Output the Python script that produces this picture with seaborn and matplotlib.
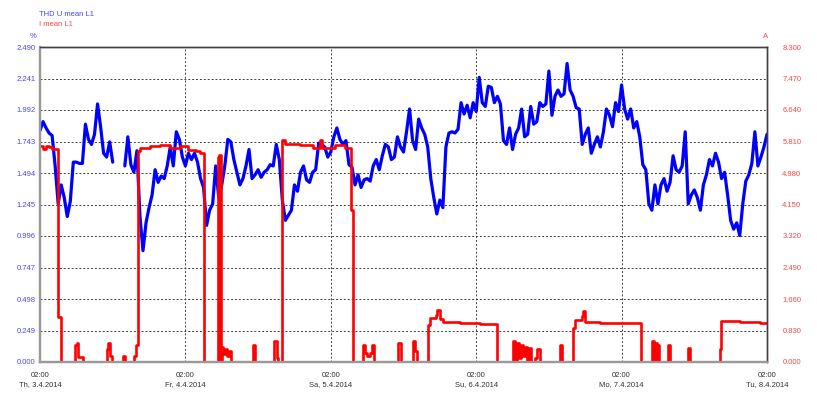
import numpy as np
import pandas as pd
import matplotlib
matplotlib.use('Agg')
import matplotlib.pyplot as plt
import seaborn as sns

sns.set_style('white')
plt.rcParams['font.family'] = ['Liberation Sans', 'DejaVu Sans']

# THD U mean L1 [%], 30 min values from Th 3.4.2014 02:00
thd_hours = np.arange(0, 120.5, 0.5)
thd_u = [
    1.83, 1.90, 1.85, 1.81, 1.79, 1.55, 1.25, 1.40, 1.30, 1.15,
    1.27, 1.58, 1.58, 1.57, 1.57, 1.88, 1.76, 1.72, 1.80, 2.04,
    1.86, 1.65, 1.62, 1.74, 1.58, np.nan, np.nan, np.nan, 1.55, 1.78,
    1.56, 1.50, 1.67, 1.15, 0.88, 1.10, 1.22, 1.32, 1.52, 1.42,
    1.47, 1.45, 1.55, 1.70, 1.55, 1.82, 1.76, 1.62, 1.55, 1.65,
    1.60, 1.65, 1.58, 1.45, 1.38, 1.08, 1.20, 1.25, 1.55, 1.30,
    1.40, 1.55, 1.76, 1.74, 1.60, 1.50, 1.40, 1.45, 1.55, 1.68,
    1.45, 1.48, 1.52, 1.46, 1.50, 1.52, 1.56, 1.55, 1.72, 1.60,
    1.28, 1.12, 1.16, 1.20, 1.40, 1.35, 1.50, 1.55, 1.44, 1.42,
    1.50, 1.52, 1.73, 1.72, 1.70, 1.62, 1.66, 1.78, 1.85, 1.76,
    1.72, 1.75, 1.56, 1.54, 1.40, 1.48, 1.38, 1.44, 1.45, 1.43,
    1.55, 1.60, 1.52, 1.63, 1.72, 1.70, 1.60, 1.62, 1.78, 1.70,
    1.66, 1.82, 2.00, 1.75, 1.68, 1.92, 1.85, 1.80, 1.70, 1.45,
    1.30, 1.17, 1.28, 1.22, 1.70, 1.81, 1.82, 1.81, 1.84, 2.05,
    1.96, 2.03, 1.93, 2.05, 1.98, 2.25, 2.05, 2.02, 2.18, 2.17,
    2.05, 2.10, 2.04, 1.75, 1.72, 1.85, 1.68, 1.80, 1.85, 2.00,
    1.78, 1.80, 2.02, 1.88, 1.90, 2.05, 2.02, 2.04, 2.30, 1.95,
    2.10, 2.15, 2.10, 2.12, 2.36, 2.15, 2.10, 2.01, 2.00, 1.72,
    1.80, 1.85, 1.65, 1.72, 1.78, 1.70, 1.82, 2.00, 1.95, 1.86,
    2.05, 1.98, 2.19, 2.00, 1.92, 2.00, 1.85, 1.90, 1.78, 1.56,
    1.52, 1.25, 1.20, 1.40, 1.25, 1.40, 1.45, 1.35, 1.42, 1.63,
    1.52, 1.50, 1.55, 1.82, 1.25, 1.32, 1.36, 1.30, 1.20, 1.40,
    1.48, 1.60, 1.55, 1.65, 1.58, 1.45, 1.50, 1.32, 1.12, 1.05,
    1.10, 1.00, 1.25, 1.43, 1.48, 1.57, 1.82, 1.55, 1.62, 1.70,
    1.80,
]

# I mean L1 [A], value changes (hours after start)
cur_hours = [
    0.0, 0.5, 1.0, 1.5, 2.0, 2.5, 2.9, 3.4, 5.8, 6.1, 6.3, 7.1,
    11.1, 11.2, 11.6, 11.9, 13.7, 14.0, 15.5, 15.8, 16.1, 16.5,
    18.2, 19.8, 21.5, 23.1, 24.4, 25.8, 26.4, 27.1, 29.3, 29.5,
    29.6, 29.9, 30.0, 30.2, 30.5, 30.9, 31.2, 31.5, 35.2, 35.5,
    38.7, 39.1, 39.3, 40.0, 40.4, 42.9, 45.1, 46.2, 46.5, 48.7,
    50.3, 51.3, 51.6, 53.3, 53.6, 54.0, 54.5, 54.8, 55.1, 59.1,
    59.6, 61.6, 61.9, 62.2, 64.0, 64.3, 65.4, 65.5, 66.0, 66.5,
    69.3, 72.6, 75.4, 78.1, 78.4, 78.7, 79.0, 79.4, 79.7, 80.1,
    80.4, 80.7, 81.1, 81.7, 82.0, 82.5, 85.8, 86.2, 88.0, 88.3,
    89.5, 89.6, 90.0, 92.4, 95.7, 99.2, 101.0, 101.4, 101.5, 101.9,
    102.0, 102.2, 103.7, 104.0, 107.0, 107.3, 112.2, 112.4, 115.5, 118.9,
    120.0,
]
cur_amps = [
    5.70, 5.62, 5.68, 5.66, 5.62, 5.60, 1.19, 0.00, 0.45, 0.50, 0.12, 0.00,
    0.35, 0.50, 0.15, 0.00, 0.15, 0.00, 0.15, 0.45, 5.55, 5.65,
    5.70, 5.72, 5.65, 5.68, 5.58, 5.55, 5.50, 0.00, 5.40, 0.00,
    5.45, 0.00, 0.40, 0.20, 0.35, 0.15, 0.30, 0.00, 0.45, 0.00,
    0.55, 0.10, 0.00, 5.85, 5.75, 5.72, 5.65, 5.85, 5.65, 5.72,
    5.65, 4.00, 0.00, 0.45, 0.25, 0.15, 0.25, 0.45, 0.00, 0.50,
    0.00, 0.55, 0.30, 0.00, 0.97, 1.16, 1.25, 1.37, 1.12, 1.06,
    1.04, 1.01, 0.00, 0.55, 0.00, 0.50, 0.10, 0.45, 0.15, 0.40,
    0.00, 0.38, 0.00, 0.10, 0.35, 0.00, 0.45, 0.00, 0.90, 1.10,
    1.20, 1.35, 1.05, 1.03, 1.02, 0.00, 0.55, 0.00, 0.50, 0.00,
    0.45, 0.00, 0.45, 0.00, 0.38, 0.00, 0.35, 1.08, 1.05, 1.02,
    1.02,
]

day_labels = ['02:00\nTh, 3.4.2014', '02:00\nFr, 4.4.2014', '02:00\nSa, 5.4.2014',
              '02:00\nSu, 6.4.2014', '02:00\nMo, 7.4.2014', '02:00\nTu, 8.4.2014']

BLUE = '#0000ff'
RED = '#ff0000'
BLUE_TXT = '#4646ff'
RED_TXT = '#ff4646'
FS = 5.5

thd_df = pd.DataFrame({'hour': thd_hours, 'thd': thd_u})
cur_df = pd.DataFrame({'hour': cur_hours, 'amps': cur_amps})

fig = plt.figure(figsize=(8.17, 3.97), dpi=100)
ax = fig.add_axes([40 / 817, 35 / 397, 727 / 817, 315 / 397])
ax2 = ax.twinx()

# blue line has a gap in the data, so plot both pieces separately
gap = thd_df['thd'].isna()
first = thd_df.loc[:gap.idxmax() - 1]
second = thd_df.loc[gap[::-1].idxmax() + 1:]
for part in [first, second]:
    sns.lineplot(data=part, x='hour', y='thd', ax=ax, color=BLUE, lw=2.3,
                 legend=False)

sns.lineplot(data=cur_df, x='hour', y='amps', ax=ax2, color=RED, lw=1.9,
             drawstyle='steps-post', legend=False)

ax.set_xlim(0, 120)
ax.set_ylim(0, 2.49)
ax2.set_ylim(0, 8.3)
ax.set_yticks(np.linspace(0, 2.49, 11))
ax.set_yticklabels(['{:.3f}'.format(v) for v in np.linspace(0, 2.49, 11)])
ax2.set_yticks(np.linspace(0, 8.3, 11))
ax2.set_yticklabels(['{:.3f}'.format(v) for v in np.linspace(0, 8.3, 11)])
ax.set_xticks(np.arange(0, 121, 24))
ax.set_xticklabels(day_labels, linespacing=1.55)

ax.tick_params(axis='y', length=0, pad=3, labelsize=FS, labelcolor=BLUE_TXT)
ax2.tick_params(axis='y', length=0, pad=11, labelsize=FS, labelcolor=RED_TXT)
ax.tick_params(axis='x', length=0, pad=7, labelsize=FS, labelcolor='#333333')
ax.set_xlabel('')
ax.set_ylabel('')
ax2.set_ylabel('')

ax.grid(True, color='#404040', linestyle=(0, (2, 2)), lw=0.7)
ax2.grid(False)

for a in [ax, ax2]:
    a.spines['left'].set_color('#999999')
    a.spines['bottom'].set_color('#999999')
    a.spines['left'].set_linewidth(1.6)
    a.spines['bottom'].set_linewidth(1.6)
    a.spines['top'].set_color('#404040')
    a.spines['right'].set_color('#404040')
    a.spines['top'].set_linewidth(1.0)
    a.spines['right'].set_linewidth(1.0)

fig.text(39 / 817, 1 - 15 / 397, 'THD U mean L1', color=BLUE_TXT, fontsize=FS, va='center')
fig.text(39 / 817, 1 - 25 / 397, 'I mean L1', color=RED_TXT, fontsize=FS, va='center')
fig.text(36 / 817, 1 - 36 / 397, '%', color=BLUE_TXT, fontsize=FS, va='center', ha='right')
fig.text(766 / 817, 1 - 36 / 397, 'A', color=RED_TXT, fontsize=FS, va='center', ha='center')

fig.savefig('out.png', dpi=100, facecolor='white')
